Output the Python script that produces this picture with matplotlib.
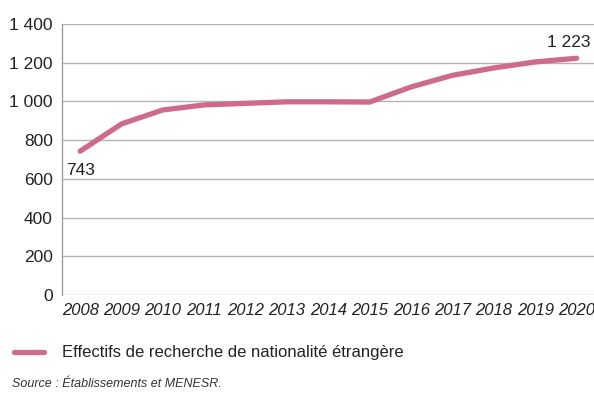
import matplotlib
matplotlib.use('Agg')
import matplotlib.pyplot as plt
from matplotlib.lines import Line2D

plt.rcParams['font.family'] = ['Liberation Sans', 'DejaVu Sans']

years = [2008, 2009, 2010, 2011, 2012, 2013, 2014, 2015, 2016, 2017, 2018, 2019, 2020]
effectifs = [743, 884, 956, 982, 990, 998, 998, 997, 1075, 1135, 1173, 1204, 1223]
y_ticks = [0, 200, 400, 600, 800, 1000, 1200, 1400]
y_labels = ['0', '200', '400', '600', '800', '1 000', '1 200', '1 400']
serie_label = 'Effectifs de recherche de nationalité étrangère'
source = 'Source : Établissements et MENESR.'

pink = '#cd6a8e'
txt = '#222222'

fig = plt.figure(figsize=(5.94, 3.94), dpi=100)
ax = fig.add_axes([62 / 594, 1 - 295 / 394, 532 / 594, (295 - 24) / 394])

ax.plot(years, effectifs, color=pink, lw=3.8, solid_capstyle='round', zorder=3)

ax.set_xlim(2007.56, 2020.42)
ax.set_ylim(0, 1400)
ax.set_yticks(y_ticks)
ax.set_yticklabels(y_labels, fontsize=12.5, color=txt)
ax.set_xticks(years)
ax.set_xticklabels([str(y) for y in years], fontsize=12, style='italic', color=txt)
ax.tick_params(axis='y', length=0, pad=6.5)
ax.tick_params(axis='x', length=0, pad=5.5)
ax.grid(axis='y', color='#b4b4b4', lw=1)
ax.set_axisbelow(True)
for s in ['top', 'right', 'bottom']:
    ax.spines[s].set_visible(False)
ax.spines['left'].set_color('#a0a0a0')
ax.spines['left'].set_linewidth(1)

# first and last values
ax.annotate('743', (years[0], effectifs[0]), xytext=(-10, -8.5), textcoords='offset points',
            ha='left', va='top', fontsize=12.5, color=txt)
ax.annotate('1 223', (years[-1], effectifs[-1]), xytext=(10, 6), textcoords='offset points',
            ha='right', va='bottom', fontsize=12.5, color=txt)

# legend under the chart
y_leg = 1 - 352 / 394
fig.add_artist(Line2D([14 / 594, 44 / 594], [y_leg, y_leg], transform=fig.transFigure,
                      color=pink, lw=3.8, solid_capstyle='round'))
fig.text(62 / 594, y_leg, serie_label, fontsize=12, color=txt, va='center', ha='left')

fig.text(12 / 594, 1 - 384 / 394, source, fontsize=9, style='italic', color='#333333',
         va='center', ha='left')

fig.savefig('out.png', dpi=100)
